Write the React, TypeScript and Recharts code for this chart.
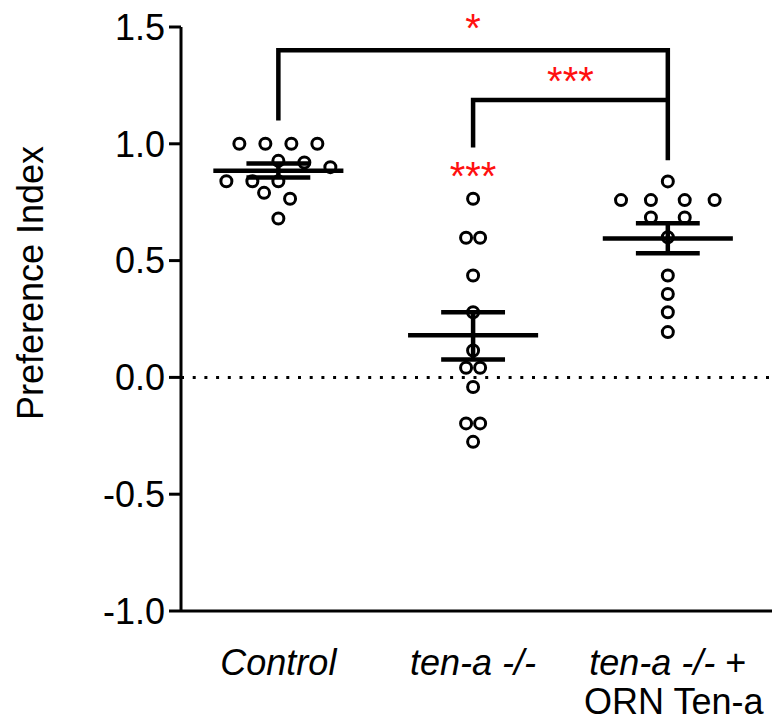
import React from 'react';
import { ComposedChart, Scatter, Line, XAxis, YAxis, ReferenceLine } from 'recharts';

const FONT = '"Liberation Sans", Arial, Helvetica, sans-serif';
const RED = '#ff1010';

// group labels (italic part, upright suffix, second line)
const CATEGORIES = ['Control', 'ten-a -/-', 'ten-a -/-'];
const CATEGORY_SUFFIX = ['', '', ' +'];
const CATEGORY_LINE2 = ['', '', 'ORN Ten-a'];

// individual preference indices
const CONTROL = [1.0, 1.0, 1.0, 1.0, 0.927, 0.92, 0.9, 0.84, 0.84, 0.84, 0.79, 0.765, 0.68];
const CONTROL_SPREAD = [-1.5, -0.5, 0.5, 1.5, 0, 1, 2, -2, -1, 0, -0.55, 0.45, 0];

const TENA = [0.765, 0.598, 0.598, 0.436, 0.279, 0.115, 0.041, 0.041, -0.041, -0.197, -0.197, -0.276];
const TENA_SPREAD = [0, -0.27, 0.27, 0, 0, 0, -0.27, 0.27, 0, -0.27, 0.27, 0];

const RESCUE = [0.839, 0.759, 0.759, 0.759, 0.759, 0.685, 0.685, 0.6, 0.436, 0.357, 0.279, 0.194];
const RESCUE_SPREAD = [0, -1.8, -0.65, 0.65, 1.8, -0.65, 0.65, 0, 0, 0, 0, 0];

// mean +/- SEM
const MEANS = [0.885, 0.18, 0.595];
const SEM_HIGH = [0.916, 0.279, 0.66];
const SEM_LOW = [0.856, 0.077, 0.531];

// significance brackets: [fromGroup, toGroup, top, leftEnd, rightEnd]
const BRACKETS = [
  [0, 2, 1.4, 1.1, 0.93],
  [1, 2, 1.187, 0.984, 1.187],
];
// stars: x (group units), baseline value, text
const STARS_X = [1.5, 2.0, 1.5];
const STARS_Y = [1.412, 1.21, 0.803];
const STARS_TEXT = ['*', '***', '***'];

const Y_TICKS = [-1, -0.5, 0, 0.5, 1, 1.5];

const SLOT = 0.1335;
const MEAN_HALF = 0.334;
const SEM_HALF = 0.164;

const groups = [
  { values: CONTROL, spread: CONTROL_SPREAD },
  { values: TENA, spread: TENA_SPREAD },
  { values: RESCUE, spread: RESCUE_SPREAD },
];

const points = groups.flatMap((g, gi) =>
  g.values.map((v, i) => ({ x: gi + 0.5 + g.spread[i] * SLOT, y: v }))
);

// line segments for mean + SEM
const segments: { x: number; y: number }[][] = [];
MEANS.forEach((m, i) => {
  const c = i + 0.5;
  segments.push([{ x: c - MEAN_HALF, y: m }, { x: c + MEAN_HALF, y: m }]);
  segments.push([{ x: c - SEM_HALF, y: SEM_HIGH[i] }, { x: c + SEM_HALF, y: SEM_HIGH[i] }]);
  segments.push([{ x: c - SEM_HALF, y: SEM_LOW[i] }, { x: c + SEM_HALF, y: SEM_LOW[i] }]);
  segments.push([{ x: c, y: SEM_LOW[i] }, { x: c, y: SEM_HIGH[i] }]);
});

const bracketLines = BRACKETS.map(([a, b, top, l, r]) => [
  { x: a + 0.5, y: l },
  { x: a + 0.5, y: top },
  { x: b + 0.5, y: top },
  { x: b + 0.5, y: r },
]);

const stars = STARS_X.map((x, i) => ({ x, y: STARS_Y[i], label: STARS_TEXT[i] }));

const Circle = (props: any) => {
  const { cx, cy } = props;
  return <circle cx={cx} cy={cy} r={5.5} fill="none" stroke="#000" strokeWidth={3} />;
};

// star glyphs are drawn a few px above their anchor so they clear the bracket
const Star = (props: any) => {
  const { cx, cy, payload } = props;
  return (
    <text x={cx} y={cy} dy={payload.label === '*' ? -6 : 0} textAnchor="middle" fill={RED} fontSize={40} fontFamily={FONT}>
      {payload.label}
    </text>
  );
};

const XTick = (props: any) => {
  const { x, y, payload } = props;
  const i = Math.round(payload.value - 0.5);
  return (
    <g>
      <text x={x} y={y + 64} textAnchor="middle" fontSize={36} fontFamily={FONT} fill="#000">
        <tspan fontStyle="italic">{CATEGORIES[i]}</tspan>
        {CATEGORY_SUFFIX[i] && <tspan>{CATEGORY_SUFFIX[i]}</tspan>}
      </text>
      {CATEGORY_LINE2[i] && (
        <text x={x + 6} y={y + 103} textAnchor="middle" fontSize={36} fontFamily={FONT} fill="#000">
          {CATEGORY_LINE2[i]}
        </text>
      )}
    </g>
  );
};

const YLabel = () => (
  <text
    x={30}
    y={283}
    transform="rotate(-90 30 283)"
    textAnchor="middle"
    dominantBaseline="central"
    fontSize={36}
    fontFamily={FONT}
    fill="#000"
  >
    Preference Index
  </text>
);

export default function App() {
  return (
    <div style={{ position: 'absolute', left: 0, top: 0 }}>
      <ComposedChart width={774} height={722} margin={{ top: 27, right: 2, bottom: 0, left: 0 }}>
        <XAxis
          type="number"
          dataKey="x"
          domain={[0, 3.035]}
          ticks={[0.5, 1.5, 2.5]}
          tick={<XTick />}
          tickLine={false}
          tickSize={0}
          tickMargin={0}
          height={111}
          axisLine={{ stroke: '#000', strokeWidth: 3 }}
        />
        <YAxis
          type="number"
          dataKey="y"
          domain={[-1, 1.5]}
          ticks={Y_TICKS}
          width={181}
          tickSize={12}
          tickMargin={4}
          tickFormatter={(v: number) => v.toFixed(1)}
          tick={{ fill: '#000', fontSize: 36, fontFamily: FONT }}
          tickLine={{ stroke: '#000', strokeWidth: 3 }}
          axisLine={{ stroke: '#000', strokeWidth: 3 }}
          label={<YLabel />}
        />
        <ReferenceLine y={0} stroke="#000" strokeWidth={3} strokeDasharray="3 8.7" />
        <Scatter data={points} dataKey="y" shape={<Circle />} isAnimationActive={false} />
        {segments.map((s, i) => (
          <Line
            key={`seg${i}`}
            data={s}
            dataKey="y"
            type="linear"
            stroke="#000"
            strokeWidth={4.5}
            dot={false}
            activeDot={false}
            isAnimationActive={false}
          />
        ))}
        {bracketLines.map((s, i) => (
          <Line
            key={`br${i}`}
            data={s}
            dataKey="y"
            type="linear"
            stroke="#000"
            strokeWidth={4.5}
            strokeLinejoin="miter"
            dot={false}
            activeDot={false}
            isAnimationActive={false}
          />
        ))}
        <Scatter data={stars} dataKey="y" shape={<Star />} isAnimationActive={false} />
      </ComposedChart>
    </div>
  );
}
